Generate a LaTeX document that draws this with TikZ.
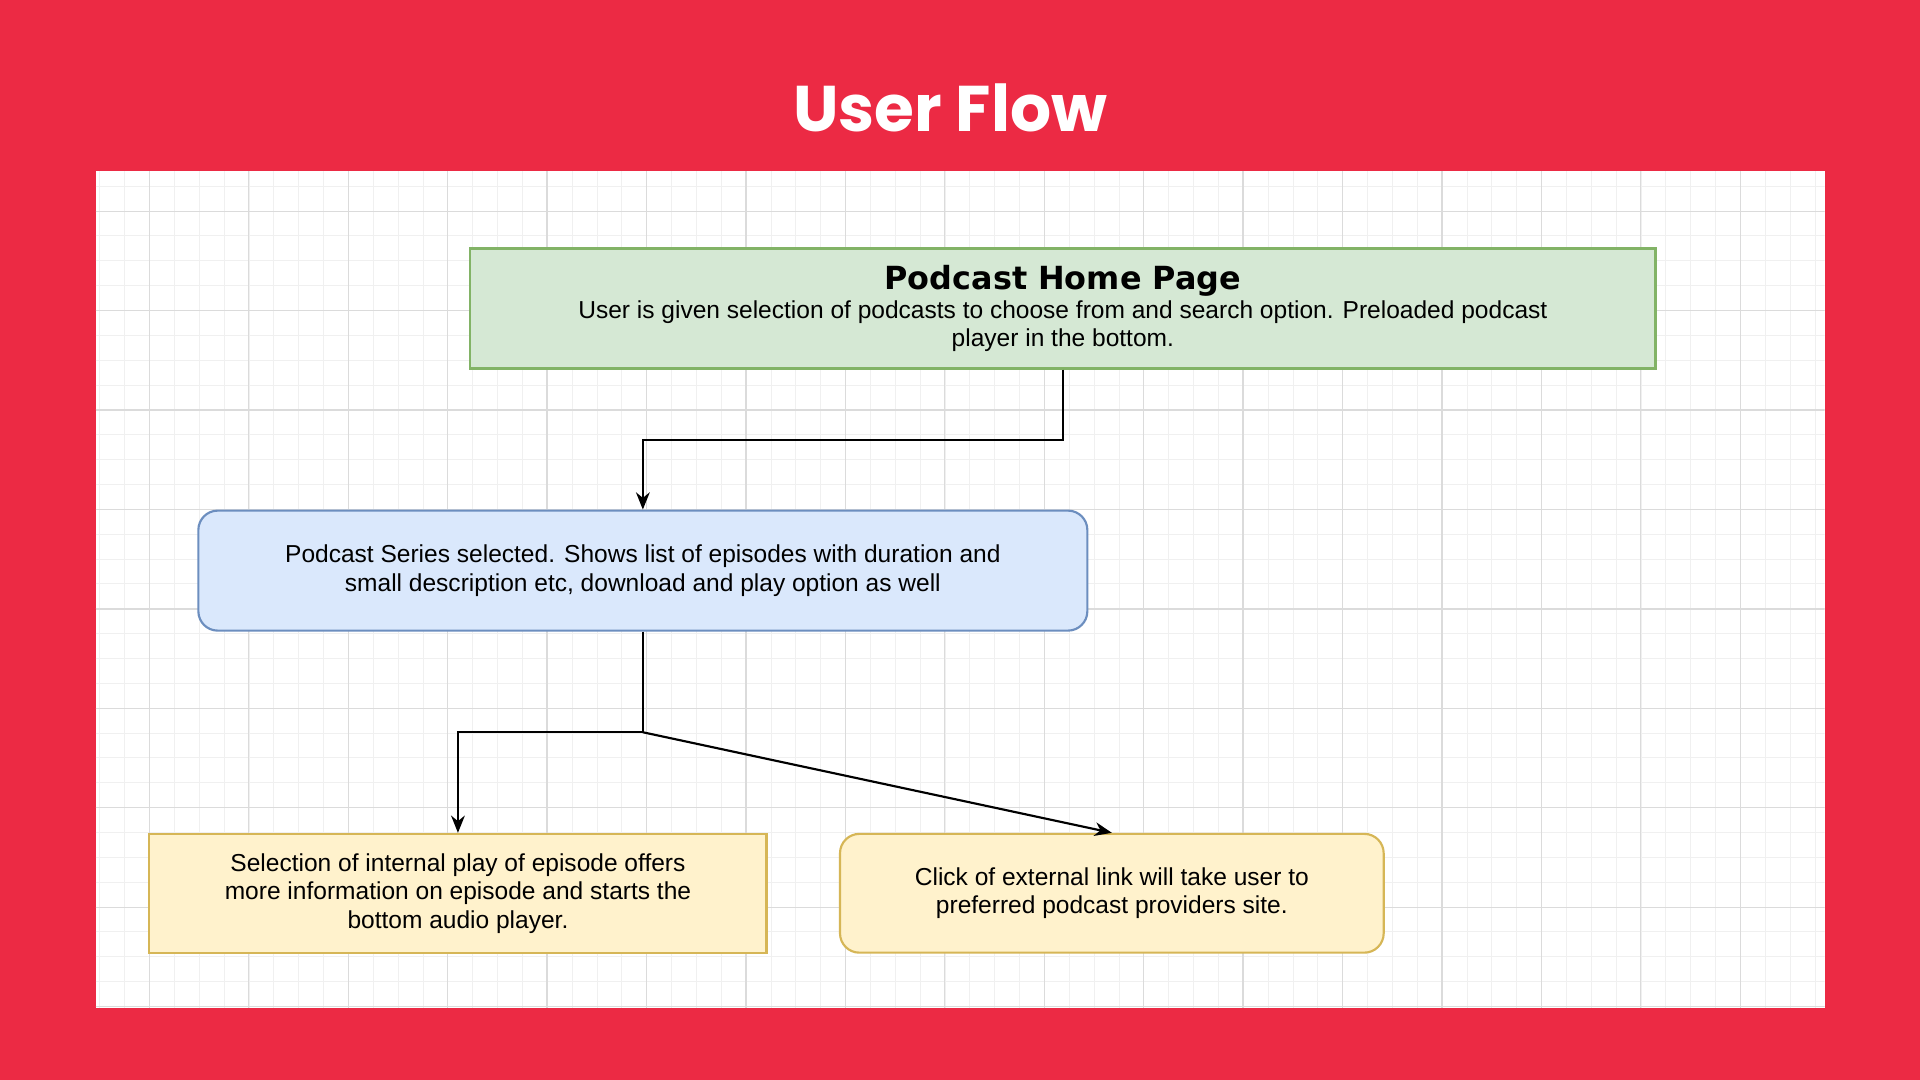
\documentclass[tikz,border=0pt]{standalone}
\usepackage{fontspec}
\usetikzlibrary{arrows.meta}
\setmainfont{Liberation Sans}
\newfontfamily\ttl{Poppins}
\newfontfamily\hdr{DejaVu Sans}
\definecolor{bgred}{HTML}{EC2A44}
\definecolor{gfill}{HTML}{D5E8D4}\definecolor{gline}{HTML}{82B366}
\definecolor{bfill}{HTML}{DAE8FC}\definecolor{bline}{HTML}{6C8EBF}
\definecolor{yfill}{HTML}{FFF2CC}\definecolor{yline}{HTML}{D6B656}
\begin{document}
\begin{tikzpicture}[x=1mm,y=-1mm,
 box/.style={draw, line width=5pt, align=center, inner sep=0pt, font=\fontsize{57}{66}\selectfont},
 conn/.style={line width=5pt, -{Stealth[length=40pt,width=32pt]}}]
\fill[bgred] (0,0) rectangle (1568,882);
\useasboundingbox (0,0) rectangle (1568,882);
\fill[white] (78,140) rectangle (1490,823);
\begin{scope}
\clip (78,140) rectangle (1490,823);
\foreach \i in {0,...,70} {\draw[gray!12, line width=2pt] (81.5+\i*20.3,140) -- (81.5+\i*20.3,823);}
\foreach \i in {0,...,34} {\draw[gray!12, line width=2pt] (78,152+\i*20.3) -- (1490,152+\i*20.3);}
\foreach \i in {0,...,18} {\draw[gray!28, line width=3pt] (122+\i*81.2,140) -- (122+\i*81.2,823);}
\foreach \i in {0,...,8} {\draw[gray!28, line width=3pt] (78,172.5+\i*81.2) -- (1490,172.5+\i*81.2);}
\end{scope}
\node[text=white, font=\ttl\bfseries\fontsize{150}{160}\selectfont] (title) at (776,88) {User Flow};
\node[box, draw=gline, fill=gfill, minimum width=968mm, minimum height=98mm] (home) at (868,252)
 {{\hdr\bfseries\fontsize{74}{84}\selectfont Podcast Home Page}\\
 User is given selection of podcasts to choose from and search option. Preloaded podcast\\player in the bottom.};
\node[box, draw=bline, fill=bfill, rounded corners=45pt, minimum width=726mm, minimum height=98mm] (series) at (525,466)
 {Podcast Series selected. Shows list of episodes with duration and\\small description etc, download and play option as well};
\node[box, draw=yline, fill=yfill, minimum width=504mm, minimum height=97mm] (internal) at (374,729.5)
 {Selection of internal play of episode offers\\more information on episode and starts the\\bottom audio player.};
\node[box, draw=yline, fill=yfill, rounded corners=45pt, minimum width=444mm, minimum height=97mm] (external) at (908,729.5)
 {Click of external link will take user to\\preferred podcast providers site.};
\coordinate (split) at (525,598);
\draw[conn] (home.south) |- (525,359) -- (series.north);
\draw[line width=5pt] (series.south) -- (split);
\draw[conn] (split) -| (internal.north);
\draw[conn] (split) -- (external.north);
\end{tikzpicture}
\end{document}
